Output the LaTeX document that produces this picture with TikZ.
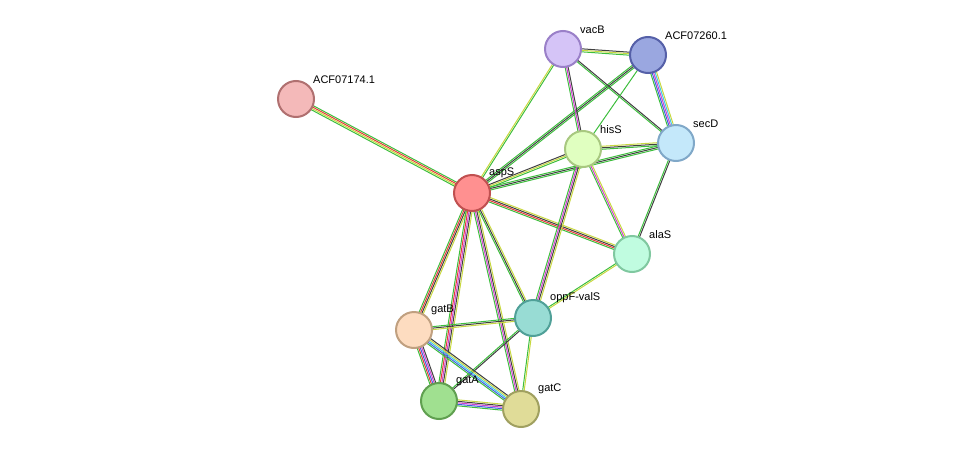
\documentclass[tikz,border=0pt]{standalone}
\usepackage{fontspec}
\setmainfont{Liberation Sans}
\usetikzlibrary{calc}
\definecolor{eg}{HTML}{3DBE3D}
\definecolor{er}{HTML}{E8383A}
\definecolor{ey}{HTML}{C8D840}
\definecolor{ek}{HTML}{404040}
\definecolor{em}{HTML}{D040D0}
\definecolor{eb}{HTML}{4060E0}
\definecolor{ec}{HTML}{40C8E8}
% draw one link as parallel coloured strands
\newcommand{\link}[3]{%
  \foreach \c [count=\i] in {#3} {\xdef\nstr{\i}}%
  \foreach \c [count=\i] in {#3} {
    \pgfmathsetmacro{\off}{(\i-(\nstr+1)/2)*1.5}
    \draw[\c, line width=1pt] ($(#1)!\off pt!90:(#2)$) -- ($(#2)!\off pt!-90:(#1)$);
  }}
\begin{document}
\begin{tikzpicture}[x=1pt,y=-1pt,
  prot/.style={circle, minimum size=36pt, inner sep=0pt, line width=2pt},
  lbl/.style={font=\fontsize{11}{13}\selectfont, anchor=south west, inner sep=1pt}]
\useasboundingbox (0,0) rectangle (976,455);
% node positions
\coordinate (acf174) at (296,99);
\coordinate (asps) at (472,193);
\coordinate (vacb) at (563,49);
\coordinate (acf260) at (648,55);
\coordinate (hiss) at (583,149);
\coordinate (secd) at (676,143);
\coordinate (alas) at (632,254);
\coordinate (oppf) at (533,318);
\coordinate (gatb) at (414,330);
\coordinate (gata) at (439,401);
\coordinate (gatc) at (521,409);
% links
\link{asps}{acf174}{eg,er,ey,eg}
\link{asps}{vacb}{eg,ey}
\link{asps}{acf260}{eg,ek,eg}
\link{asps}{hiss}{eg,ey,ek}
\link{asps}{secd}{eg,ek,eg}
\link{asps}{alas}{eg,er,ek,ey}
\link{asps}{oppf}{eg,ek,ey}
\link{asps}{gatb}{eg,er,ek,ey}
\link{asps}{gata}{eg,er,em,ek,ey}
\link{asps}{gatc}{eg,em,ek,ey}
\link{vacb}{acf260}{eg,ey,ek}
\link{vacb}{hiss}{eg,em,ek}
\link{vacb}{secd}{eg,ek}
\link{acf260}{secd}{eg,eb,em,ec,ey}
\link{acf260}{hiss}{eg}
\link{hiss}{secd}{eg,ek,ey}
\link{hiss}{alas}{eg,em,ey}
\link{hiss}{oppf}{eg,em,ek,ey}
\link{secd}{alas}{eg,ek}
\link{alas}{oppf}{eg,ey}
\link{oppf}{gatb}{eg,ek,ey}
\link{oppf}{gata}{eg,ek}
\link{oppf}{gatc}{eg,ey}
\link{gatb}{gata}{eg,er,eb,em,ek}
\link{gatb}{gatc}{eg,eb,ec,ey,ek}
\link{gata}{gatc}{eg,eb,em,ek,ey}
% proteins
\node[prot, fill={rgb,255:red,244;green,185;blue,185}, draw={rgb,255:red,176;green,112;blue,112}] (n1) at (acf174) {};
\node[prot, fill={rgb,255:red,255;green,144;blue,144}, draw={rgb,255:red,192;green,80;blue,80}] (n2) at (asps) {};
\node[prot, fill={rgb,255:red,213;green,196;blue,247}, draw={rgb,255:red,154;green,128;blue,200}] (n3) at (vacb) {};
\node[prot, fill={rgb,255:red,154;green,167;blue,224}, draw={rgb,255:red,85;green,96;blue,168}] (n4) at (acf260) {};
\node[prot, fill={rgb,255:red,224;green,255;blue,192}, draw={rgb,255:red,168;green,200;blue,128}] (n5) at (hiss) {};
\node[prot, fill={rgb,255:red,196;green,232;blue,250}, draw={rgb,255:red,128;green,168;blue,200}] (n6) at (secd) {};
\node[prot, fill={rgb,255:red,192;green,252;blue,224}, draw={rgb,255:red,128;green,200;blue,160}] (n7) at (alas) {};
\node[prot, fill={rgb,255:red,152;green,220;blue,212}, draw={rgb,255:red,80;green,160;blue,152}] (n8) at (oppf) {};
\node[prot, fill={rgb,255:red,253;green,220;blue,192}, draw={rgb,255:red,192;green,160;blue,128}] (n9) at (gatb) {};
\node[prot, fill={rgb,255:red,160;green,224;blue,144}, draw={rgb,255:red,96;green,160;blue,80}] (n10) at (gata) {};
\node[prot, fill={rgb,255:red,224;green,220;blue,152}, draw={rgb,255:red,160;green,160;blue,96}] (n11) at (gatc) {};
% labels
\node[lbl] at ($(acf174)+(16,-14)$) {ACF07174.1};
\node[lbl] at ($(asps)+(16,-14)$) {aspS};
\node[lbl] at ($(vacb)+(16,-14)$) {vacB};
\node[lbl] at ($(acf260)+(16,-14)$) {ACF07260.1};
\node[lbl] at ($(hiss)+(16,-14)$) {hisS};
\node[lbl] at ($(secd)+(16,-14)$) {secD};
\node[lbl] at ($(alas)+(16,-14)$) {alaS};
\node[lbl] at ($(oppf)+(16,-14)$) {oppF-valS};
\node[lbl] at ($(gatb)+(16,-14)$) {gatB};
\node[lbl] at ($(gata)+(16,-14)$) {gatA};
\node[lbl] at ($(gatc)+(16,-14)$) {gatC};
\end{tikzpicture}
\end{document}
